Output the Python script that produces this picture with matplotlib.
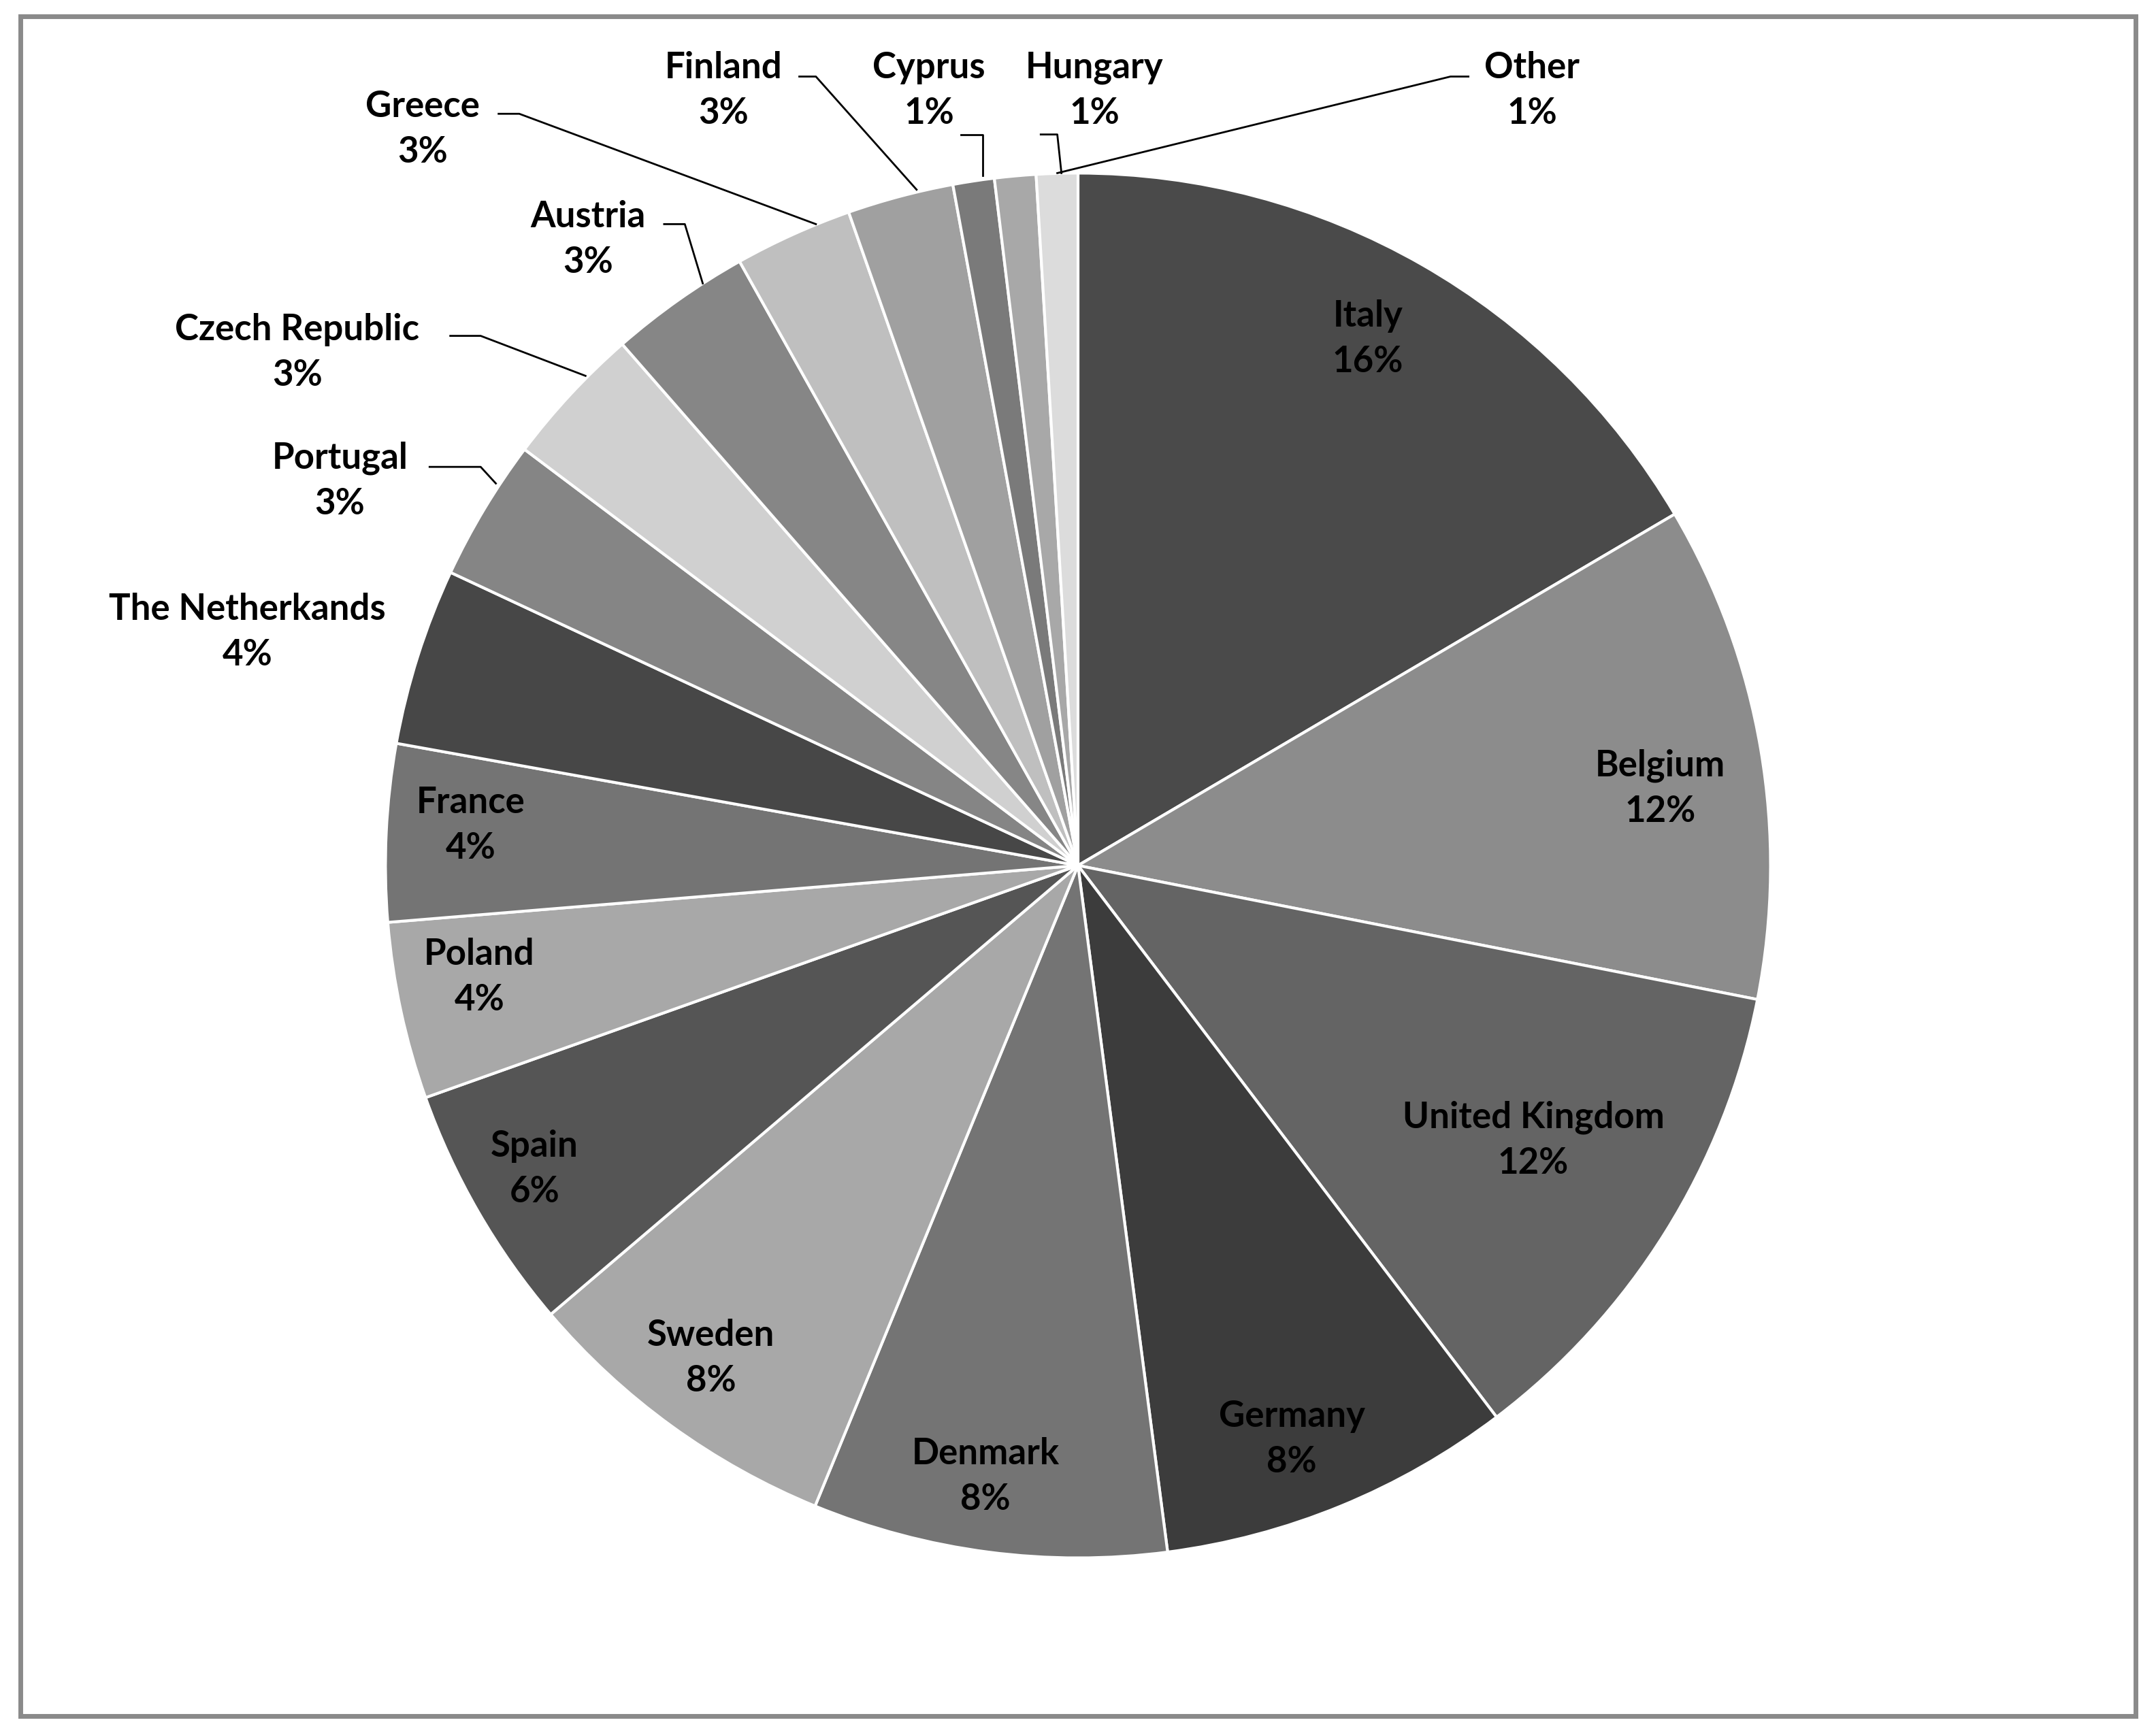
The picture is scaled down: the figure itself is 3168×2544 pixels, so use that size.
import matplotlib
matplotlib.use("Agg")
import matplotlib.pyplot as plt
from matplotlib.patches import Rectangle

countries = ['Italy', 'Belgium', 'United Kingdom', 'Germany', 'Denmark', 'Sweden',
             'Spain', 'Poland', 'France', 'The Netherkands', 'Portugal',
             'Czech Republic', 'Austria', 'Greece', 'Finland', 'Cyprus',
             'Hungary', 'Other']
values = [60, 42, 42, 30, 30, 27.5, 21, 15, 15, 15, 12, 12, 12, 10, 9, 3.5, 3.5, 3.5]
pct_labels = ['16%', '12%', '12%', '8%', '8%', '8%', '6%', '4%', '4%', '4%', '3%',
              '3%', '3%', '3%', '3%', '1%', '1%', '1%']
colors = ['#4a4a4a', '#8c8c8c', '#646464', '#3c3c3c', '#747474', '#a8a8a8',
          '#555555', '#a8a8a8', '#747474', '#474747', '#858585', '#d0d0d0',
          '#868686', '#bfbfbf', '#a0a0a0', '#7a7a7a', '#a8a8a8', '#dcdcdc']

# label centres and leader lines in reference pixel coords (1568x1256 view)
CX, CY, R = 785, 630, 502
label_px = [(995, 248), (1207, 574), (1115, 829), (940, 1046), (718, 1073),
            (519, 987), (391, 850), (351, 711), (345, 601), (183, 461),
            (250, 351), (219, 258), (430, 176), (310, 96), (528, 68),
            (677, 68), (797, 68), (1114, 68)]
leaders_px = {
    'Portugal': [(315, 341), (352, 341), (363, 353)],
    'Czech Republic': [(330, 246), (352, 246), (428, 275)],
    'Austria': [(485, 165), (500, 165), (513, 208)],
    'Greece': [(365, 85), (380, 85), (595, 165)],
    'Finland': [(583, 58), (595, 58), (668, 140)],
    'Cyprus': [(700, 100), (716, 100), (716, 130)],
    'Hungary': [(758, 100), (770, 100), (773, 128)],
    'Other': [(1068, 58), (1055, 58), (770, 128)],
}


def to_data(p):
    return (p[0] - CX) / R, (CY - p[1]) / R


plt.rcParams['font.family'] = ['Lato', 'DejaVu Sans']

fig = plt.figure(figsize=(15.84, 12.72), dpi=200)
ax = fig.add_axes([0, 0, 1, 1])
ax.set_xlim((0 - CX) / R, (1568 - CX) / R)
ax.set_ylim((CY - 1256) / R, CY / R)
ax.set_aspect('equal')
ax.axis('off')

ax.pie(values, colors=colors, startangle=90, counterclock=False, radius=1.0,
       wedgeprops=dict(edgecolor='white', linewidth=1.5))

for name, pct, p in zip(countries, pct_labels, label_px):
    x, y = to_data(p)
    ax.text(x, y, f'{name}\n{pct}', ha='center', va='center', fontsize=19,
            fontweight='bold', color='black', linespacing=1.45)

for name, pts in leaders_px.items():
    xy = [to_data(p) for p in pts]
    ax.plot([q[0] for q in xy], [q[1] for q in xy], color='black', lw=1.0)

fig.patches.append(Rectangle((15 / 1568, 1 - 1245 / 1256), 1538 / 1568, 1233 / 1256,
                             transform=fig.transFigure, fill=False,
                             edgecolor='#8a8a8a', linewidth=2.5))

fig.savefig('out.png', dpi=200, facecolor='white')
